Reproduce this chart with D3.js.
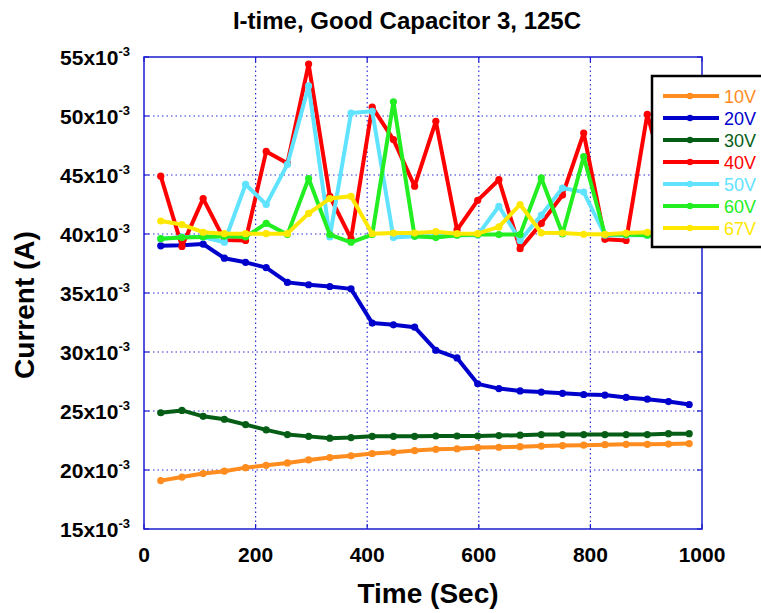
<!DOCTYPE html>
<html>
<head>
<meta charset="utf-8">
<script src="https://cdn.jsdelivr.net/npm/d3@7"></script>
<style>
  body { margin: 0; background: #fff; }
  svg { display: block; font-family: "Liberation Sans", Arial, sans-serif; }
</style>
</head>
<body>
<svg width="761" height="613"></svg>
<script>
// time in seconds, current in mA (axis shows it as x10^-3 A)
const times = [30, 68, 106, 144, 182, 219, 257, 295, 333, 371, 409, 447, 485, 523, 561, 598, 636, 674, 712, 750, 788, 826, 864, 902, 940, 977];

const v10 = [19.1, 19.4, 19.7, 19.9, 20.2, 20.4, 20.6, 20.85, 21.05, 21.2, 21.4, 21.5, 21.65, 21.75, 21.8, 21.9, 21.93, 21.98, 22.03, 22.07, 22.1, 22.15, 22.18, 22.18, 22.2, 22.24];
const v20 = [39.0, 39.05, 39.15, 37.95, 37.6, 37.15, 35.9, 35.7, 35.55, 35.35, 32.45, 32.3, 32.1, 30.15, 29.5, 27.3, 26.9, 26.7, 26.6, 26.5, 26.4, 26.35, 26.15, 26.0, 25.8, 25.55];
const v30 = [24.85, 25.05, 24.55, 24.3, 23.85, 23.4, 23.0, 22.85, 22.7, 22.75, 22.85, 22.85, 22.85, 22.88, 22.88, 22.88, 22.92, 22.95, 23.0, 23.0, 23.0, 23.0, 23.0, 23.0, 23.08, 23.08];
const v40 = [44.9, 38.95, 43.0, 39.5, 39.45, 47.0, 46.0, 54.4, 43.2, 39.6, 50.75, 48.0, 44.05, 49.55, 40.35, 42.85, 44.6, 38.75, 40.9, 43.3, 48.55, 39.55, 39.45, 50.15, 43.5, 40.5];
const v50 = [39.6, 39.75, 39.75, 39.3, 44.2, 42.5, 45.9, 52.55, 39.75, 50.25, 50.4, 39.7, 39.8, 39.8, 39.9, 39.9, 42.35, 39.45, 41.6, 43.9, 43.55, 39.9, 39.9, 39.9, 39.9, 39.9];
const v60 = [39.6, 39.7, 39.75, 39.8, 39.75, 40.9, 39.95, 44.7, 39.95, 39.3, 39.95, 51.2, 39.8, 39.7, 39.9, 39.95, 39.95, 39.95, 44.75, 40.0, 46.55, 39.95, 39.95, 39.9, 39.9, 39.9];
const v67 = [41.1, 40.8, 40.15, 40.03, 40.03, 40.03, 40.03, 41.75, 43.0, 43.2, 40.03, 40.08, 40.08, 40.2, 40.03, 40.03, 40.6, 42.5, 40.1, 40.08, 39.98, 39.98, 40.08, 40.15, 40.1, 40.1];

const seriesNames = ["10V", "20V", "30V", "40V", "50V", "60V", "67V"];
const seriesValues = [v10, v20, v30, v40, v50, v60, v67];
const seriesColors = ["#ff8c1e", "#0000cc", "#065e16", "#ff0000", "#5fe3ff", "#22ee22", "#ffe800"];

const xTicks = [0, 200, 400, 600, 800, 1000];
const yTicks = [15, 20, 25, 30, 35, 40, 45, 50, 55];

const margin = { left: 144, right: 59, top: 57, bottom: 84 };
const width = 761, height = 613;
const svg = d3.select("svg");

const x = d3.scaleLinear().domain([0, 1000]).range([margin.left, width - margin.right]);
const y = d3.scaleLinear().domain([15, 55]).range([height - margin.bottom, margin.top]);

const gridColor = "#2f2fd6";
const frameColor = "#1c1cd0";

// grid
svg.append("g")
    .selectAll("line")
    .data(xTicks.slice(1, -1))
    .join("line")
    .attr("x1", d => x(d)).attr("x2", d => x(d))
    .attr("y1", y(55)).attr("y2", y(15))
    .attr("stroke", gridColor)
    .attr("stroke-width", 1.2)
    .attr("stroke-dasharray", "1.5,3");

svg.append("g")
    .selectAll("line")
    .data(yTicks.slice(1, -1))
    .join("line")
    .attr("x1", x(0)).attr("x2", x(1000))
    .attr("y1", d => y(d)).attr("y2", d => y(d))
    .attr("stroke", gridColor)
    .attr("stroke-width", 1.2)
    .attr("stroke-dasharray", "1.5,3");

// inner tick marks on all sides
const ticks = svg.append("g").attr("stroke", frameColor).attr("stroke-width", 1.2);
xTicks.forEach(t => {
    ticks.append("line").attr("x1", x(t)).attr("x2", x(t)).attr("y1", y(15)).attr("y2", y(15) - 5);
    ticks.append("line").attr("x1", x(t)).attr("x2", x(t)).attr("y1", y(55)).attr("y2", y(55) + 5);
});
yTicks.forEach(t => {
    ticks.append("line").attr("x1", x(0)).attr("x2", x(0) + 5).attr("y1", y(t)).attr("y2", y(t));
    ticks.append("line").attr("x1", x(1000)).attr("x2", x(1000) - 5).attr("y1", y(t)).attr("y2", y(t));
});

// frame
svg.append("rect")
    .attr("x", x(0)).attr("y", y(55))
    .attr("width", x(1000) - x(0)).attr("height", y(15) - y(55))
    .attr("fill", "none")
    .attr("stroke", frameColor)
    .attr("stroke-width", 1.5);

// series
const line = d3.line().x((d, i) => x(times[i])).y(d => y(d));

seriesValues.forEach((vals, k) => {
    const g = svg.append("g");
    g.append("path")
        .datum(vals)
        .attr("d", line)
        .attr("fill", "none")
        .attr("stroke", seriesColors[k])
        .attr("stroke-width", 4)
        .attr("stroke-linejoin", "round");
    g.selectAll("circle")
        .data(vals)
        .join("circle")
        .attr("cx", (d, i) => x(times[i]))
        .attr("cy", d => y(d))
        .attr("r", 3.6)
        .attr("fill", seriesColors[k]);
});

// axis labels
svg.append("g")
    .selectAll("text")
    .data(xTicks)
    .join("text")
    .attr("x", d => x(d))
    .attr("y", y(15) + 33)
    .attr("text-anchor", "middle")
    .attr("font-size", 21)
    .attr("font-weight", "bold")
    .text(d => d);

const yLabels = svg.append("g")
    .selectAll("text")
    .data(yTicks)
    .join("text")
    .attr("x", 130)
    .attr("y", d => y(d) + 7.5)
    .attr("text-anchor", "end")
    .attr("font-size", 21)
    .attr("font-weight", "bold");
yLabels.append("tspan").text(d => d + "x10");
yLabels.append("tspan").attr("dy", -9).attr("font-size", 13).text("-3");

svg.append("text")
    .attr("x", 407).attr("y", 29)
    .attr("text-anchor", "middle")
    .attr("font-size", 24)
    .attr("font-weight", "bold")
    .text("I-time, Good Capacitor 3, 125C");

svg.append("text")
    .attr("x", 428).attr("y", 603)
    .attr("text-anchor", "middle")
    .attr("font-size", 28)
    .attr("font-weight", "bold")
    .text("Time (Sec)");

svg.append("text")
    .attr("transform", "translate(34,305) rotate(-90)")
    .attr("text-anchor", "middle")
    .attr("font-size", 28)
    .attr("font-weight", "bold")
    .text("Current (A)");

// legend
const legend = svg.append("g").attr("transform", "translate(652,76)");
legend.append("rect")
    .attr("width", 130).attr("height", 171)
    .attr("fill", "#fff")
    .attr("stroke", "#000")
    .attr("stroke-width", 2.5);

seriesNames.forEach((name, k) => {
    const row = legend.append("g").attr("transform", `translate(0,${20 + k * 22})`);
    row.append("line")
        .attr("x1", 11).attr("x2", 67)
        .attr("stroke", seriesColors[k])
        .attr("stroke-width", 4);
    row.append("circle").attr("cx", 38).attr("r", 3.2).attr("fill", seriesColors[k]);
    row.append("text")
        .attr("x", 72).attr("y", 6.5)
        .attr("font-size", 18)
        .attr("fill", seriesColors[k])
        .text(name);
});
</script>
</body>
</html>
